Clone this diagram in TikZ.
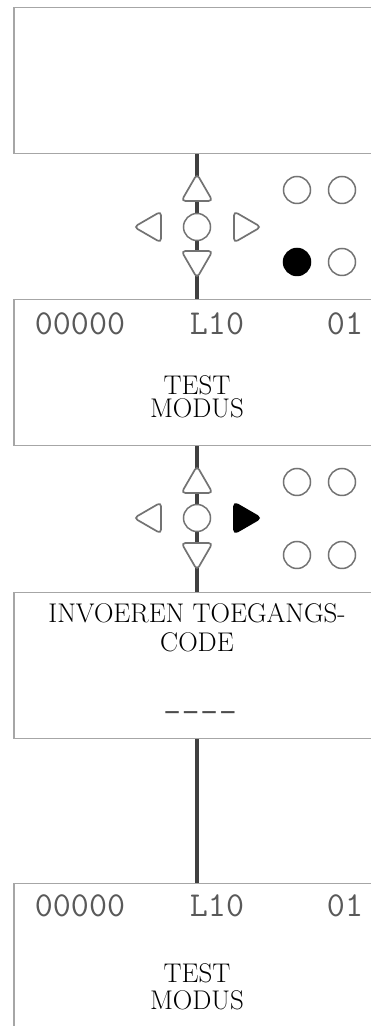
\documentclass[tikz,border=0pt]{standalone}
\usepackage{fontspec}
\newfontfamily\lcdfont{Liberation Mono}
\usetikzlibrary{shapes.geometric}

\begin{document}
\begin{tikzpicture}[x=1pt,y=1pt,
    scherm/.style={draw=gray!70,line width=1.5pt,minimum width=366pt,minimum height=146pt,anchor=north,inner sep=0pt},
    lijn/.style={draw=black!75,line width=3.5pt},
    pijl/.style={draw=black!55,fill=white,line width=1.7pt,regular polygon,regular polygon sides=3,minimum size=36pt,inner sep=0pt,rounded corners=4pt},
    rond/.style={draw=black!55,fill=white,line width=1.5pt,circle,minimum size=27pt,inner sep=0pt},
    lcd/.style={font=\ttfamily\fontsize{35}{35}\selectfont,text=black!65,inner sep=0pt,anchor=base},
    tekst/.style={align=center,inner sep=0pt,anchor=north}]
    \useasboundingbox (0,0) rectangle (371,1026);
    \clip (0,0) rectangle (371,1026);
    \node[scherm] (leeg) at (197,1019) {};
    \node[scherm] (test1) at (197,727) {};
    \node[scherm] (code) at (197,434) {};
    \node[scherm] (test2) at (197,143) {};
    \draw[lijn] (leeg.south) -- (test1.north);
    \draw[lijn] (test1.south) -- (code.north);
    \draw[lijn] (code.south) -- (test2.north);
    % knoppen bij test modus
    \node[pijl] (op1) at (197,834) {};
    \node[pijl,shape border rotate=180] (neer1) at (197,766) {};
    \node[pijl,shape border rotate=90] (links1) at (152,799) {};
    \node[pijl,shape border rotate=-90] (rechts1) at (243,799) {};
    \node[rond] (ok1) at (197,799) {};
    \node[rond] (lo1) at (297,836) {};
    \node[rond] (ro1) at (342,836) {};
    \node[rond,fill=black,draw=black] (lb1) at (297,764) {};
    \node[rond] (rb1) at (342,764) {};
    % knoppen bij toegangscode
    \node[pijl] (op2) at (197,542) {};
    \node[pijl,shape border rotate=180] (neer2) at (197,474) {};
    \node[pijl,shape border rotate=90] (links2) at (152,508) {};
    \node[pijl,shape border rotate=-90,fill=black,draw=black] (rechts2) at (243,508) {};
    \node[rond] (ok2) at (197,508) {};
    \node[rond] (lo2) at (297,544) {};
    \node[rond] (ro2) at (342,544) {};
    \node[rond] (lb2) at (297,471) {};
    \node[rond] (rb2) at (342,471) {};
    % teksten
    \node[lcd] (teller1) at (80,691) {00000};
    \node[lcd] (lijst1) at (217,691) {L10};
    \node[lcd] (nr1) at (345,691) {01};
    \node[tekst,font=\fontsize{27}{23}\selectfont] (modus1) at (197,651) {TEST\\MODUS};
    \node[tekst,font=\fontsize{27}{29}\selectfont] (invoer) at (197,423) {INVOEREN TOEGANGS-\\CODE};
    \node[lcd,font=\lcdfont\fontsize{31}{31}\selectfont,text=black!70] (streep) at (200,305) {––––};
    \node[lcd] (teller2) at (80,109) {00000};
    \node[lcd] (lijst2) at (217,109) {L10};
    \node[lcd] (nr2) at (345,109) {01};
    \node[tekst,font=\fontsize{27}{27}\selectfont] (modus2) at (197,63) {TEST\\MODUS};
\end{tikzpicture}
\end{document}
